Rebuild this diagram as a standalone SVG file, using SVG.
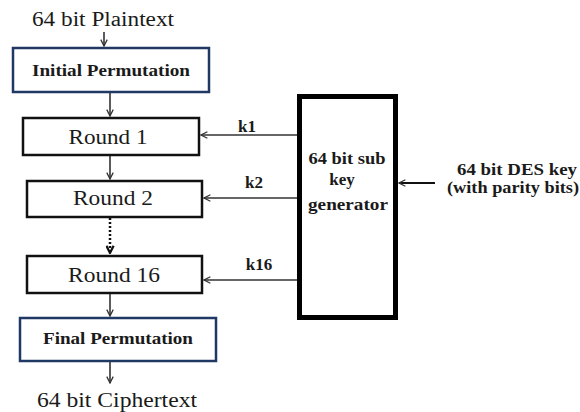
<svg xmlns="http://www.w3.org/2000/svg" width="580" height="412" viewBox="0 0 580 412">
<style>
.t{font-family:"Liberation Serif","Times New Roman",serif;fill:#1a1a1a}
.b{font-weight:bold}
.rb{fill:#fff;stroke:#111;stroke-width:2.5}
.pb{fill:#fff;stroke:#1f3864;stroke-width:2.5}
.c{stroke:#333;stroke-width:1.6;fill:none}
</style>
<defs>
<marker id="ah" viewBox="0 0 10 10" refX="9" refY="5" markerWidth="8" markerHeight="8" markerUnits="userSpaceOnUse" orient="auto">
<path d="M1,1 L9,5 L1,9" fill="none" stroke="#333" stroke-width="1.6"/>
</marker>
<marker id="ahd" viewBox="0 0 10 10" refX="9" refY="5" markerWidth="9" markerHeight="9" markerUnits="userSpaceOnUse" orient="auto">
<path d="M1,1 L9,5 L1,9" fill="none" stroke="#111" stroke-width="2.5"/>
</marker>
</defs>
<rect width="580" height="412" fill="#fff"/>
<g id="connectors">
<line class="c" x1="104" y1="32" x2="104" y2="46" marker-end="url(#ah)"/>
<line class="c" x1="110" y1="93" x2="110" y2="116" marker-end="url(#ah)"/>
<line class="c" x1="110" y1="156" x2="110" y2="179" marker-end="url(#ah)"/>
<line x1="110" y1="218" x2="110" y2="253" stroke="#111" stroke-width="2.5" stroke-dasharray="2,2" marker-end="url(#ahd)"/>
<line class="c" x1="110" y1="294" x2="110" y2="316" marker-end="url(#ah)"/>
<line class="c" x1="110" y1="362" x2="110" y2="383" marker-end="url(#ah)"/>
<line class="c" x1="297" y1="135" x2="201" y2="135" marker-end="url(#ah)"/>
<line class="c" x1="297" y1="198" x2="204" y2="198" marker-end="url(#ah)"/>
<line class="c" x1="297" y1="280" x2="204" y2="280" marker-end="url(#ah)"/>
<line x1="435" y1="183" x2="399" y2="183" stroke="#111" stroke-width="2" marker-end="url(#ah)"/>
<text class="t b" x="247" y="132" font-size="17" text-anchor="middle">k1</text>
<text class="t b" x="254" y="188" font-size="17" text-anchor="middle">k2</text>
<text class="t b" x="259" y="270" font-size="17" text-anchor="middle">k16</text>
</g>
<g id="plaintext"><text class="t" x="103" y="26" font-size="20" text-anchor="middle" textLength="142" lengthAdjust="spacingAndGlyphs">64 bit Plaintext</text></g>
<g id="ip"><rect class="pb" x="13" y="48" width="196" height="44"/><text class="t b" x="111" y="76" font-size="17" text-anchor="middle" textLength="158" lengthAdjust="spacingAndGlyphs">Initial Permutation</text></g>
<g id="round1"><rect class="rb" x="23" y="118" width="176" height="37"/><text class="t" x="108" y="144" font-size="20" text-anchor="middle" textLength="79" lengthAdjust="spacingAndGlyphs">Round 1</text></g>
<g id="round2"><rect class="rb" x="27" y="181" width="175" height="36"/><text class="t" x="113" y="205" font-size="20" text-anchor="middle" textLength="80" lengthAdjust="spacingAndGlyphs">Round 2</text></g>
<g id="round16"><rect class="rb" x="27" y="256" width="175" height="37"/><text class="t" x="114" y="282" font-size="20" text-anchor="middle" textLength="92" lengthAdjust="spacingAndGlyphs">Round 16</text></g>
<g id="fp"><rect class="pb" x="20" y="318" width="196" height="43"/><text class="t b" x="118" y="344" font-size="17" text-anchor="middle" textLength="150" lengthAdjust="spacingAndGlyphs">Final Permutation</text></g>
<g id="ciphertext"><text class="t" x="117" y="407" font-size="20" text-anchor="middle" textLength="160" lengthAdjust="spacingAndGlyphs">64 bit Ciphertext</text></g>
<g id="keygen"><rect x="299.5" y="96.5" width="96" height="221" fill="#fff" stroke="#000" stroke-width="5"/>
<text class="t b" x="347" y="164" font-size="17" text-anchor="middle" textLength="77" lengthAdjust="spacingAndGlyphs">64 bit sub</text>
<text class="t b" x="342" y="185" font-size="17" text-anchor="middle">key</text>
<text class="t b" x="348" y="210" font-size="17" text-anchor="middle" textLength="80" lengthAdjust="spacingAndGlyphs">generator</text></g>
<g id="deskey"><text class="t b" x="517" y="175" font-size="17" text-anchor="middle" textLength="120" lengthAdjust="spacingAndGlyphs">64 bit DES key</text>
<text class="t b" x="513" y="193" font-size="17" text-anchor="middle" textLength="132" lengthAdjust="spacingAndGlyphs">(with parity bits)</text></g>
</svg>
